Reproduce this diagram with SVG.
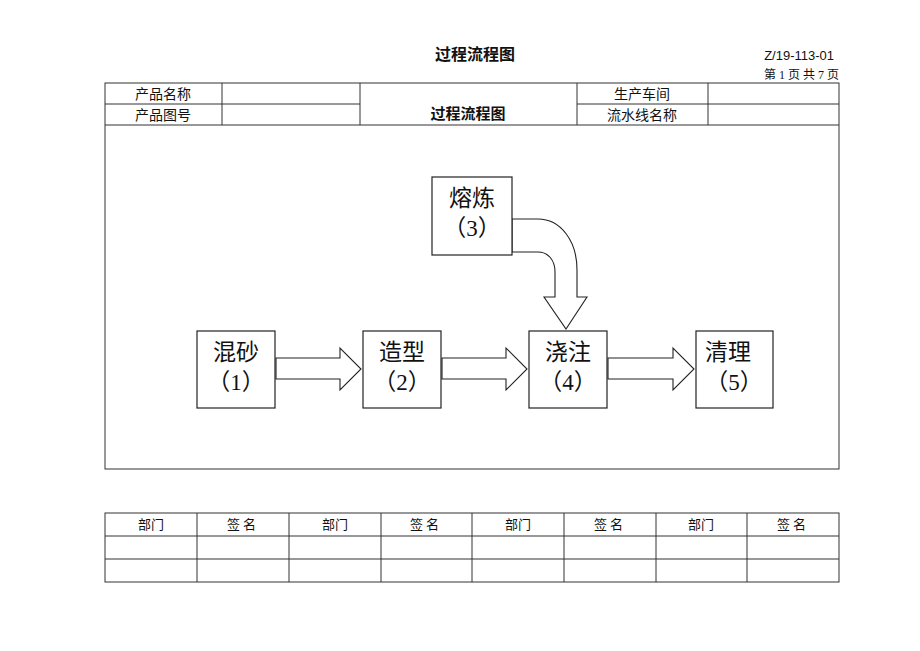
<svg xmlns="http://www.w3.org/2000/svg" width="920" height="651" viewBox="0 0 920 651">
<style>
.cn{font-family:"Noto Sans CJK SC","Noto Sans",sans-serif;fill:#111}
.t{font-size:14px;text-anchor:middle}
.b{font-size:13px;text-anchor:middle}
.n{font-size:23px;text-anchor:middle;font-family:"Liberation Serif","Noto Sans CJK SC",serif;fill:#111}
.ln{stroke:#333;stroke-width:1;fill:none}
.box{fill:#fff;stroke:#222;stroke-width:1.2}
.arr{fill:#fff;stroke:#222;stroke-width:1.1;stroke-linejoin:miter}
</style>
<rect width="920" height="651" fill="#fff"/>
<text class="cn" x="475" y="60" style="font-size:16px;font-weight:bold;text-anchor:middle">过程流程图</text>
<text x="834" y="60" style="font-family:'Liberation Sans',sans-serif;font-size:13px;text-anchor:end;fill:#111">Z/19-113-01</text>
<text x="839" y="79" style="font-family:'Liberation Serif','Noto Sans CJK SC',serif;font-size:12px;text-anchor:end;fill:#111">第 1 页 共 7 页</text>
<g id="header-table">
<rect class="ln" x="105" y="83" width="734" height="386"/>
<line class="ln" x1="105" y1="104" x2="360" y2="104"/>
<line class="ln" x1="577" y1="104" x2="839" y2="104"/>
<line class="ln" x1="105" y1="125" x2="839" y2="125"/>
<line class="ln" x1="222" y1="83" x2="222" y2="125"/>
<line class="ln" x1="360" y1="83" x2="360" y2="125"/>
<line class="ln" x1="577" y1="83" x2="577" y2="125"/>
<line class="ln" x1="708" y1="83" x2="708" y2="125"/>
<text class="cn t" x="163" y="99">产品名称</text>
<text class="cn t" x="163" y="120">产品图号</text>
<text class="cn" x="468" y="119" style="font-size:15px;font-weight:bold;text-anchor:middle">过程流程图</text>
<text class="cn t" x="642" y="99">生产车间</text>
<text class="cn t" x="642" y="120">流水线名称</text>
</g>
<g id="connectors">
<path class="arr" d="M276,358 H340 V348 L361,369 L340,390 V379 H276 Z"/>
<path class="arr" d="M442,358 H506 V348 L527,369 L506,390 V379 H442 Z"/>
<path class="arr" d="M608,358 H673 V348 L694,369 L673,390 V379 H608 Z"/>
<path class="arr" d="M512,219 H538 C560,219 577,240 577,270 V297 H587 L566,329 L544,297 H555 V272 C555,260 548,252 538,252 H512 Z"/>
</g>
<g id="node1"><rect class="box" x="197" y="331" width="78" height="77"/><text class="n" x="236" y="360">混砂</text><text class="n" x="236" y="390">（1）</text></g>
<g id="node2"><rect class="box" x="363" y="331" width="78" height="77"/><text class="n" x="402" y="360">造型</text><text class="n" x="402" y="390">（2）</text></g>
<g id="node3"><rect class="box" x="432" y="177" width="80" height="78"/><text class="n" x="472" y="206">熔炼</text><text class="n" x="472" y="236">（3）</text></g>
<g id="node4"><rect class="box" x="529" y="331" width="78" height="77"/><text class="n" x="568" y="360">浇注</text><text class="n" x="568" y="390">（4）</text></g>
<g id="node5"><rect class="box" x="696" y="331" width="77" height="77"/><text class="n" x="728" y="360">清理</text><text class="n" x="734" y="390">（5）</text></g>
<g id="sign-table">
<rect class="ln" x="105" y="513" width="734" height="69"/>
<line class="ln" x1="105" y1="536" x2="839" y2="536"/>
<line class="ln" x1="105" y1="559" x2="839" y2="559"/>
<line class="ln" x1="197" y1="513" x2="197" y2="582"/>
<line class="ln" x1="289" y1="513" x2="289" y2="582"/>
<line class="ln" x1="381" y1="513" x2="381" y2="582"/>
<line class="ln" x1="472" y1="513" x2="472" y2="582"/>
<line class="ln" x1="564" y1="513" x2="564" y2="582"/>
<line class="ln" x1="656" y1="513" x2="656" y2="582"/>
<line class="ln" x1="747" y1="513" x2="747" y2="582"/>
<text class="cn b" x="151" y="529">部门</text>
<text class="cn b" x="243" y="529" letter-spacing="3">签名</text>
<text class="cn b" x="335" y="529">部门</text>
<text class="cn b" x="426" y="529" letter-spacing="3">签名</text>
<text class="cn b" x="518" y="529">部门</text>
<text class="cn b" x="610" y="529" letter-spacing="3">签名</text>
<text class="cn b" x="701" y="529">部门</text>
<text class="cn b" x="793" y="529" letter-spacing="3">签名</text>
</g>
</svg>
